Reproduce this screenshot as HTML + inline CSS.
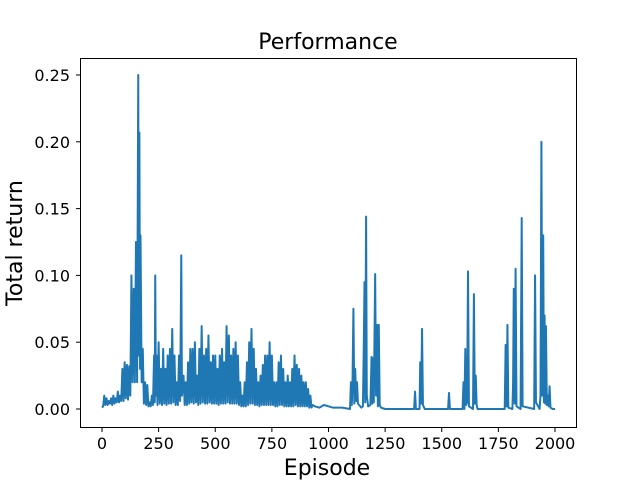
<!DOCTYPE html>
<html><head><meta charset="utf-8"><style>
body{margin:0;background:#fff}
svg text{font-family:"DejaVu Sans","Liberation Sans",sans-serif;fill:#000}
</style></head><body>
<svg id="chart" width="640" height="480">
<rect x="0" y="0" width="640" height="480" fill="#fff"/>
<g id="plot"></g>
<rect x="80.5" y="58.5" width="496" height="369" fill="none" stroke="#000" stroke-width="1"/>
<text x="328" y="49" font-size="22" text-anchor="middle">Performance</text>
<text x="327" y="475" font-size="22" text-anchor="middle">Episode</text>
<text transform="translate(22,243) rotate(-90)" font-size="22" text-anchor="middle">Total return</text>
<g id="axes"></g>
</svg>
<script>
const xTicks=[0,250,500,750,1000,1250,1500,1750,2000];
const yTicks=[0,0.05,0.10,0.15,0.20,0.25];
const yTickLabels=["0.00","0.05","0.10","0.15","0.20","0.25"];
const episodesEarly=[0,5,10,15,20,25,30,35,40,45,50,55,60,65,70,75,80,85,90,95,100,105,110,115,120,125,130,135,140,145,150,155,160,163,165,168,170,175,180,185,190,195,200,205,210,215,220,225,230,233,235,238,240,245,250,255,260,265,270,275,280,285,290,295,300,305,310,315,320,325,330,335,340,345,350,353,360,365,370,375,380,385,390,395,400,405,410,415,420,425,430,435,440,445,450,455,460,465,470,475,480,485,490,495,500,505,510,515,520,525,530,535,540,545,550,555,560,565,570,575,580,585,590,595,600,605,610,615,620,625,630,635,640,645,650,655,660,665,670,675,680,685,690,695,700,705,710,715,720,725,730,735,740,745,750,755,760,765,770,775,780,785,790,795,800,805,810,815,820,825,830,835,840,845,850,855,860,865,870,875,880,885,890,895,900,905,910,915,920,925,930];
const returnsEarly=[0.001,0.002,0.01,0.003,0.008,0.003,0.006,0.004,0.008,0.003,0.01,0.004,0.008,0.005,0.013,0.005,0.01,0.006,0.03,0.006,0.035,0.008,0.033,0.007,0.032,0.01,0.10,0.02,0.09,0.02,0.125,0.02,0.25,0.04,0.207,0.03,0.13,0.02,0.045,0.004,0.02,0.003,0.018,0.002,0.005,0.002,0.01,0.003,0.04,0.005,0.10,0.01,0.04,0.003,0.05,0.004,0.03,0.003,0.045,0.004,0.03,0.003,0.04,0.004,0.045,0.004,0.06,0.005,0.04,0.003,0.02,0.003,0.04,0.006,0.115,0.01,0.025,0.003,0.02,0.003,0.035,0.004,0.045,0.005,0.045,0.004,0.05,0.005,0.025,0.003,0.045,0.004,0.062,0.005,0.04,0.004,0.045,0.004,0.055,0.005,0.035,0.004,0.04,0.004,0.04,0.004,0.03,0.003,0.04,0.004,0.045,0.004,0.035,0.004,0.062,0.005,0.055,0.004,0.04,0.004,0.045,0.004,0.05,0.004,0.04,0.003,0.02,0.002,0.01,0.002,0.02,0.002,0.035,0.003,0.05,0.004,0.06,0.004,0.045,0.003,0.03,0.003,0.02,0.002,0.025,0.003,0.033,0.003,0.04,0.003,0.04,0.003,0.05,0.003,0.04,0.003,0.02,0.002,0.02,0.002,0.035,0.003,0.04,0.003,0.03,0.002,0.02,0.002,0.025,0.002,0.02,0.002,0.03,0.002,0.04,0.003,0.033,0.002,0.03,0.002,0.025,0.002,0.02,0.002,0.02,0.002,0.015,0.001,0.01,0.001,0.003];
const episodesLate=[940,960,980,1000,1020,1060,1095,1099,1103,1106,1110,1114,1118,1122,1126,1130,1145,1152,1156,1159,1162,1166,1169,1175,1185,1190,1193,1196,1200,1206,1210,1214,1218,1222,1226,1232,1250,1378,1382,1386,1402,1405,1409,1413,1417,1425,1528,1532,1536,1592,1596,1600,1604,1607,1612,1616,1620,1638,1642,1646,1650,1654,1658,1778,1782,1786,1790,1794,1812,1815,1818,1822,1826,1830,1848,1853,1857,1908,1912,1916,1932,1936,1940,1944,1948,1951,1954,1957,1960,1964,1968,1972,1976,1980,1990,2000];
const returnsLate=[0.002,0.001,0.003,0.002,0.001,0.001,0,0.02,0.003,0.02,0.075,0.004,0.03,0.006,0.02,0.004,0.001,0.002,0.05,0.095,0.005,0.144,0.01,0.002,0.003,0.039,0.004,0.038,0.005,0.101,0.01,0.063,0.002,0.063,0.003,0.001,0,0,0.013,0,0,0.035,0.004,0.06,0.003,0,0,0.012,0,0,0.02,0,0.045,0.003,0.005,0.103,0.002,0,0.086,0.004,0.025,0.003,0,0,0.048,0.002,0.063,0.001,0,0.02,0.09,0.004,0.105,0.002,0,0.143,0.002,0,0.1,0.005,0,0.01,0.2,0.01,0.13,0.005,0.07,0.004,0.062,0.003,0.01,0.002,0.017,0.001,0,0];
const episodes=episodesEarly.concat(episodesLate);
const returns=returnsEarly.slice(0,episodesEarly.length).concat(returnsLate);
const X0=102,X1=555,Y0=409,Y1=75;
const xs=v=>X0+v*(X1-X0)/2000;
const ys=v=>Y0-v*(Y0-Y1)/0.25;
const NS="http://www.w3.org/2000/svg";
const plot=document.getElementById('plot'),axes=document.getElementById('axes');
let d="";
for(let i=0;i<episodes.length;i++){d+=(i?"L":"M")+xs(episodes[i]).toFixed(2)+" "+ys(returns[i]||0).toFixed(2);}
const p=document.createElementNS(NS,'path');
p.setAttribute('d',d);p.setAttribute('fill','none');p.setAttribute('stroke','#1f77b4');p.setAttribute('stroke-width','2');p.setAttribute('stroke-linejoin','round');


plot.appendChild(p);
xTicks.forEach(t=>{
 const l=document.createElementNS(NS,'line');const x=xs(t);
 l.setAttribute('x1',x);l.setAttribute('x2',x);l.setAttribute('y1',428);l.setAttribute('y2',432);l.setAttribute('stroke','#000');
 
 
 axes.appendChild(l);
 const tx=document.createElementNS(NS,'text');tx.setAttribute('x',x);tx.setAttribute('y',449);tx.setAttribute('font-size','16');tx.setAttribute('text-anchor','middle');tx.textContent=t;
 
 
 axes.appendChild(tx);
});
yTicks.forEach((t,i)=>{
 const l=document.createElementNS(NS,'line');const y=ys(t);
 l.setAttribute('x1',76);l.setAttribute('x2',80);l.setAttribute('y1',y);l.setAttribute('y2',y);l.setAttribute('stroke','#000');
 
 
 axes.appendChild(l);
 const tx=document.createElementNS(NS,'text');tx.setAttribute('x',70);tx.setAttribute('y',y+6);tx.setAttribute('font-size','16');tx.setAttribute('text-anchor','end');tx.textContent=yTickLabels[i];
 
 
 axes.appendChild(tx);
});
</script>
</body></html>
